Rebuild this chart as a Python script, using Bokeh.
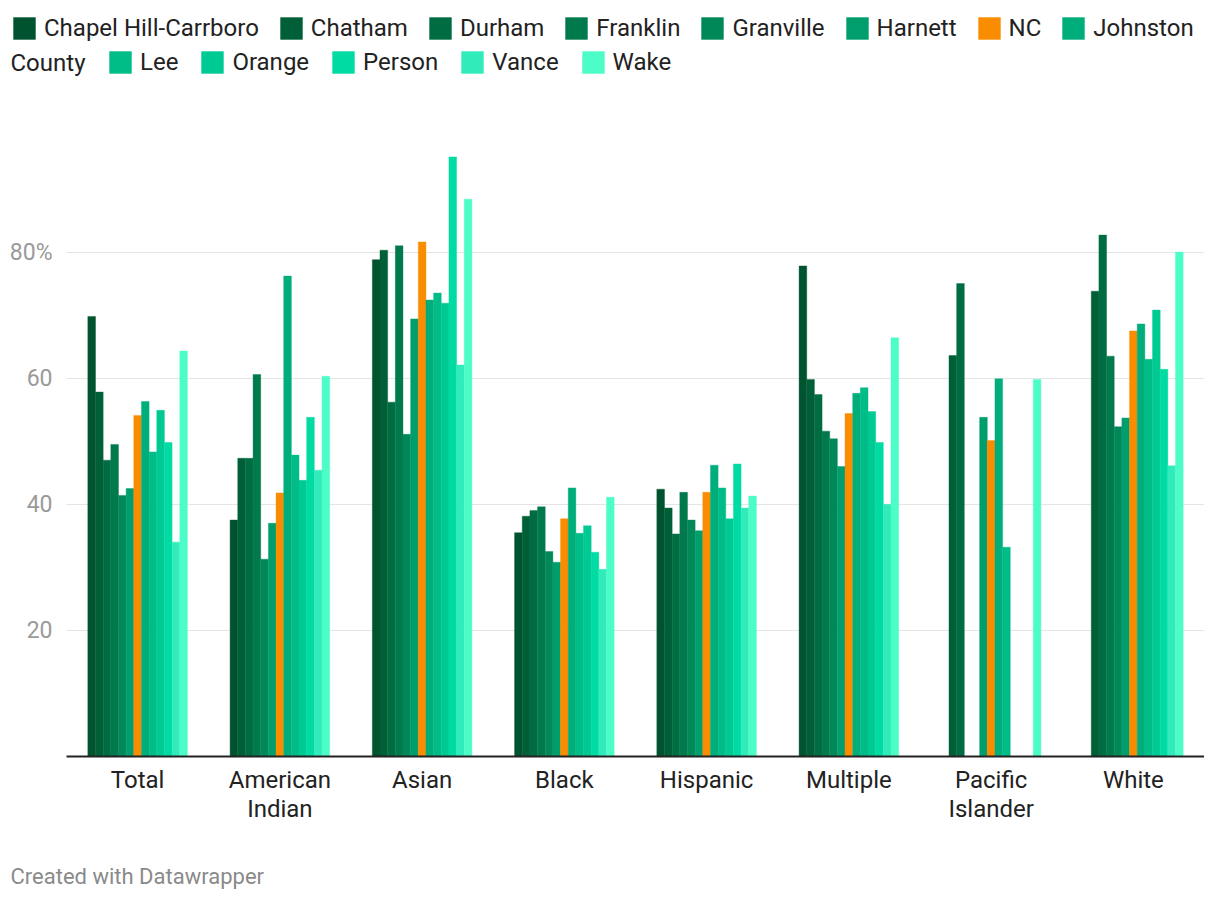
from bokeh.plotting import figure
from bokeh.layouts import column
from bokeh.models import (ColumnDataSource, FactorRange, Range1d, FixedTicker,
                          Legend, LegendItem, Label)
from bokeh.transform import dodge
from bokeh.embed import file_html
from bokeh.resources import INLINE

nan = float("nan")

groups = ["Total", "American\nIndian", "Asian", "Black", "Hispanic",
          "Multiple", "Pacific\nIslander", "White"]

series = ["Chapel Hill-Carrboro", "Chatham", "Durham", "Franklin", "Granville",
          "Harnett", "NC", "Johnston County", "Lee", "Orange", "Person",
          "Vance", "Wake"]

colors = ["#00532f", "#005f37", "#006c42", "#007a4d", "#008858", "#009e6c",
          "#fa8c00", "#00ae7b", "#00bc87", "#00ca94", "#00dba3", "#31ecba",
          "#4dfdc7"]

chapel_hill = [69.8, 37.5, 78.8, 35.5, 42.4, 77.8, nan, nan]
chatham     = [57.8, 47.3, 80.3, 38.1, 39.4, 59.8, 63.6, 73.8]
durham      = [47.0, 47.3, 56.2, 39.0, 35.3, 57.4, 75.0, 82.7]
franklin    = [49.5, 60.6, 81.0, 39.6, 41.9, 51.6, nan, 63.5]
granville   = [41.4, 31.3, 51.1, 32.5, 37.5, 50.4, nan, 52.3]
harnett     = [42.5, 37.0, 69.4, 30.8, 35.8, 46.0, 53.8, 53.7]
nc          = [54.1, 41.8, 81.6, 37.7, 41.9, 54.4, 50.1, 67.5]
johnston    = [56.3, 76.2, 72.4, 42.6, 46.2, 57.6, 59.9, 68.6]
lee         = [48.3, 47.8, 73.5, 35.4, 42.6, 58.5, 33.2, 63.0]
orange      = [54.9, 43.8, 71.9, 36.6, 37.7, 54.7, nan, 70.8]
person      = [49.8, 53.8, 95.1, 32.4, 46.4, 49.8, nan, 61.4]
vance       = [34.0, 45.4, 62.1, 29.7, 39.4, 40.0, nan, 46.1]
wake        = [64.3, 60.3, 88.4, 41.1, 41.3, 66.4, 59.8, 80.0]

values = [chapel_hill, chatham, durham, franklin, granville, harnett, nc,
          johnston, lee, orange, person, vance, wake]

y_ticks = [20, 40, 60, 80]

FONT = "Roboto"
TEXT = "#222222"
W = 1204


def bare_figure(height):
    f = figure(width=W, height=height, x_range=Range1d(0, 1), y_range=Range1d(0, 1),
               x_axis_location=None, y_axis_location=None,
               output_backend="svg", toolbar_location=None,
               min_border=0, outline_line_color=None, frame_align=False,
               background_fill_color="white", border_fill_color="white")
    f.xgrid.visible = False
    f.ygrid.visible = False
    return f


# ---------------- legend strip ----------------
lg = bare_figure(80)
swatches = []
for name, col in zip(series, colors):
    # swatch renderer only used for the legend key; its single bar lies off-range
    swatches.append(lg.vbar(x=[-5], top=[-5], bottom=[-6], width=0.1,
                            fill_color=col, line_color=None))


def make_legend(idx, labels, loc, spacing):
    items = [LegendItem(label=lab, renderers=[swatches[k]]) for k, lab in zip(idx, labels)]
    return Legend(items=items, orientation="horizontal", location=loc,
                  glyph_width=28, glyph_height=28, label_standoff=6, spacing=spacing,
                  padding=0, margin=0, border_line_color=None,
                  background_fill_alpha=0,
                  label_text_font=FONT, label_text_font_size="24px",
                  label_text_color=TEXT, label_height=28,
                  label_text_baseline="middle")


row1_labels = series[:7] + ["Johnston"]
lg.add_layout(make_legend(list(range(8)), row1_labels, (10, 38), 18))
lg.add_layout(make_legend(list(range(8, 13)), series[8:], (106, 4), 20))
lg.add_layout(Label(x=10, y=18, x_units="screen", y_units="screen",
                    text="County", text_font=FONT, text_font_size="24px",
                    text_color=TEXT, text_baseline="middle"))

# ---------------- main chart ----------------
p = figure(width=W, height=770,
           x_range=FactorRange(factors=groups, range_padding=0),
           y_range=Range1d(0, 97.7),
           output_backend="svg", toolbar_location=None,
           min_border_left=66, min_border_right=0,
           min_border_top=60, min_border_bottom=94,
           outline_line_color=None, frame_align=False,
           background_fill_color="white", border_fill_color="white")

n = len(series)
group_width = 0.7
bw = group_width / n
for i, (name, vals, col) in enumerate(zip(series, values, colors)):
    src = ColumnDataSource(dict(group=groups, value=vals))
    p.vbar(x=dodge("group", -group_width / 2 + bw * (i + 0.5), range=p.x_range),
           top="value", bottom=0, width=bw, source=src,
           fill_color=col, line_color=col, line_width=0.4)

p.xaxis.axis_line_color = TEXT
p.xaxis.axis_line_width = 2
p.xaxis.major_tick_line_color = None
p.xaxis.minor_tick_line_color = None
p.xaxis.major_label_text_font = FONT
p.xaxis.major_label_text_font_size = "24px"
p.xaxis.major_label_text_color = TEXT
p.xaxis.major_label_text_line_height = 1.05
p.xaxis.major_label_standoff = 3

p.yaxis.ticker = FixedTicker(ticks=y_ticks)
p.yaxis.major_label_overrides = {80: "80%"}
p.yaxis.axis_line_color = None
p.yaxis.major_tick_line_color = None
p.yaxis.minor_tick_line_color = None
p.yaxis.major_label_text_font = FONT
p.yaxis.major_label_text_font_size = "23px"
p.yaxis.major_label_text_color = "#9a9a9a"
p.yaxis.major_label_standoff = 8

p.xgrid.grid_line_color = None
p.ygrid.ticker = FixedTicker(ticks=y_ticks)
p.ygrid.grid_line_color = "#e5e5e5"
p.ygrid.grid_line_width = 1

# ---------------- footer ----------------
ft = bare_figure(40)
ft.add_layout(Label(x=10, y=14, x_units="screen", y_units="screen",
                    text="Created with Datawrapper", text_font=FONT,
                    text_font_size="22px", text_color="#8a8a8a",
                    text_baseline="middle"))

layout = column(lg, p, ft, spacing=0)

open("out.html", "w").write(file_html(layout, INLINE))
